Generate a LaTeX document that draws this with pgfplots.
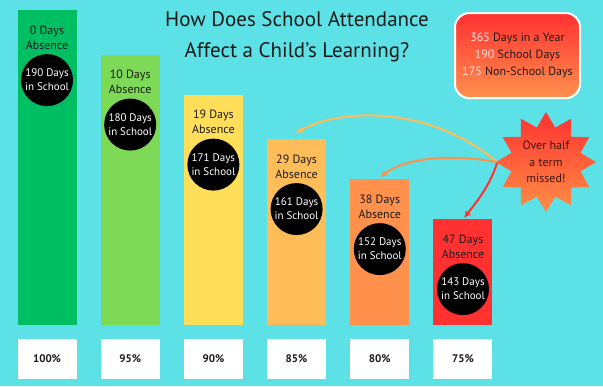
\documentclass[border=0pt]{standalone}
\usepackage{fontspec}
\setmainfont{PT Sans}
\usepackage{pgfplots}
\pgfplotsset{compat=1.18}
\usepackage{pgfplotstable}
\usetikzlibrary{arrows.meta,shapes.geometric}

\definecolor{bg}{HTML}{5CE1E6}
\definecolor{c0}{HTML}{00BF63}
\definecolor{c1}{HTML}{7ED957}
\definecolor{c2}{HTML}{FFDE59}
\definecolor{c3}{HTML}{FFBD59}
\definecolor{c4}{HTML}{FF914D}
\definecolor{c5}{HTML}{FF3131}
\definecolor{ink}{HTML}{1A1A1A}
\definecolor{pinkw}{HTML}{FFE3E3}

\pgfplotstableread{
x days absence
0 190 0
1 180 10
2 171 19
3 161 29
4 152 38
5 143 47
}\attend

\begin{document}
\begin{tikzpicture}
\begin{axis}[
  width=603pt, height=386pt, scale only axis,
  xmin=-0.565, xmax=6.683, ymin=-13.72, ymax=73.08,
  /pgf/number format/assume math mode=true,
  axis background/.style={fill=bg},
  axis line style={draw=none},
  ytick=\empty,
  xtick={0,...,5},
  xticklabels={100\%,95\%,90\%,85\%,80\%,75\%},
  major tick length=0pt,
  xticklabel style={fill=white, minimum width=59pt, minimum height=40pt, inner sep=0pt, anchor=center, yshift=27pt, font=\bfseries\fontsize{11}{13}\selectfont, text=ink},
  clip=false,
  mybar/.style={ybar, bar width=59pt, bar shift=0pt, draw=none},
]
\pgfplotsinvokeforeach{0,...,5}{
  \addplot[mybar, fill=c#1, restrict x to domain=#1:#1] table[x=x, y expr=\thisrow{days}-119.17] {\attend};
}
\addplot[mybar, fill=none, point meta=\thisrow{absence},
  nodes near coords={\pgfmathprintnumber{\pgfplotspointmeta} Days\\Absence},
  every node near coord/.append style={anchor=north, yshift=-12pt, align=center, font=\fontsize{12}{15}\selectfont, text=ink}]
  table[x=x, y expr=\thisrow{days}-119.17] {\attend};
\addplot[mybar, fill=none, point meta=\thisrow{days},
  nodes near coords={\pgfmathprintnumber{\pgfplotspointmeta} Days\\in School},
  every node near coord/.append style={anchor=center, yshift=-70pt, circle, fill=black, text=white, minimum size=52pt, inner sep=0pt, align=center, font=\fontsize{11}{14}\selectfont}]
  table[x=x, y expr=\thisrow{days}-119.17] {\attend};
\end{axis}
\begin{scope}[x=1pt, y=-1pt, yshift=386pt]
  \node[align=center, font=\fontsize{21}{31}\selectfont, text=ink] at (297,37) {How Does School Attendance\\Affect a Child’s Learning?};
  \node[draw=white, line width=2pt, rounded corners=14pt, top color=c5, bottom color=c4, minimum width=125pt, minimum height=85pt, align=center, font=\fontsize{12}{17}\selectfont, text=ink] at (517.5,55.5) {{\color{pinkw}365} Days in a Year\\{\color{pinkw}190} School Days\\{\color{pinkw}175} Non-School Days};
  \draw[c3, line width=2pt, -{Latex[length=7pt,width=7pt]}] (497,162) .. controls (430,105) and (340,108) .. (296,133);
  \draw[c4, line width=2pt, -{Latex[length=7pt,width=7pt]}] (497,162) .. controls (460,155) and (410,155) .. (380,177);
  \draw[c5, line width=2pt, -{Latex[length=7pt,width=7pt]}] (497,163) .. controls (490,185) and (478,200) .. (464,218);
  \node[star, star points=12, star point ratio=1.4, minimum size=100pt, inner sep=0pt, top color=c5, bottom color=c4!90!orange, draw=none] at (546,162) {};
  \node[align=center, font=\fontsize{12}{16.5}\selectfont, text=ink!85!red] at (546,162) {Over half\\a term\\missed!};
\end{scope}
\end{tikzpicture}
\end{document}
